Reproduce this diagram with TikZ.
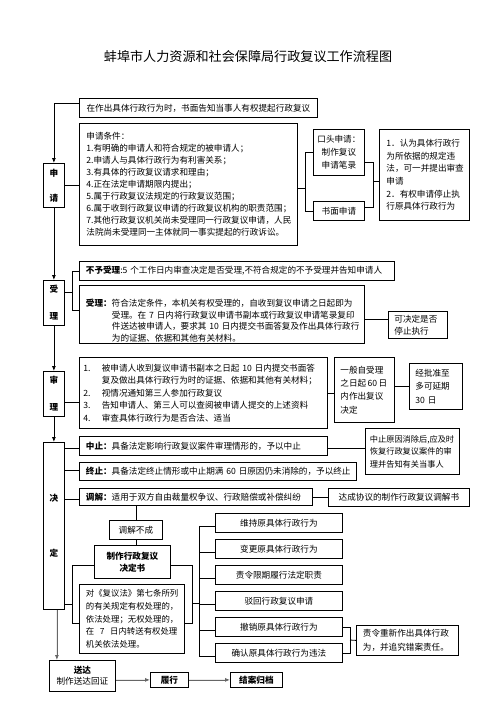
\documentclass[tikz,border=0pt]{standalone}
\usepackage{fontspec}
\setmainfont{Noto Sans CJK SC}
\usetikzlibrary{arrows.meta}
\newcommand\fs{\fontsize{8.6}{12}\selectfont}
\tikzset{
  box/.style={draw, line width=0.8pt, inner sep=0pt, anchor=north west, font=\fs},
  lbox/.style={box, align=left},
  cbox/.style={box, align=center},
  vbox/.style={box, align=center, text width=21pt, font=\fontsize{8.6}{#1}\selectfont},
  ln/.style={line width=0.8pt},
  arr/.style={ln, -{Latex[length=5pt,width=4pt]}},
  garr/.style={arr, draw=black!60, fill=black!60},
}
\begin{document}
\begin{tikzpicture}[x=1pt,y=-1pt, every path/.style={line width=0.8pt}]
\useasboundingbox (0,0) rectangle (496,702);
\node[font=\fontsize{13.1}{15}\selectfont] (title) at (248,57) {蚌埠市人力资源和社会保障局行政复议工作流程图};

% 申请
\node[cbox, text width=234pt, inner xsep=2pt, minimum height=19pt] (gz) at (79,98) {在作出具体行政行为时，书面告知当事人有权提起行政复议};
\node[vbox=25, minimum height=44pt] (sq) at (43,163) {\textbf{申}\\\textbf{请}};
\node[lbox, text width=204pt, inner xsep=7pt, minimum height=122pt] (cond) at (79,123) {申请条件：\\
1.有明确的申请人和符合规定的被申请人；\\
2.申请人与具体行政行为有利害关系；\\
3.有具体的行政复议请求和理由；\\
4.正在法定申请期限内提出；\\
5.属于行政复议法规定的行政复议范围；\\
6.属于收到行政复议申请的行政复议机构的职责范围；\\
7.其他行政复议机关尚未受理同一行政复议申请，人民\\
法院尚未受理同一主体就同一事实提起的行政诉讼。};
\node[cbox, text width=45pt, inner xsep=3pt, minimum height=46pt, font=\fontsize{8.6}{13}\selectfont] (kt) at (313,129) {口头申请：\\制作复议\\申请笔录};
\node[cbox, text width=45pt, inner xsep=3pt, minimum height=19pt] (sm) at (313,201) {书面申请};
\node[lbox, text width=76pt, inner xsep=7pt, minimum height=91pt, font=\fontsize{8.6}{12.7}\selectfont] (rb) at (379,129) {1．认为具体行政行\\为所依据的规定违\\法，可一并提出审查\\申请\\2．有权申请停止执\\行原具体行政行为};

% 受理
\node[vbox=27, minimum height=45pt] (sl) at (43,280) {\textbf{受}\\\textbf{理}};
\node[lbox, text width=302pt, inner xsep=6.5pt, minimum height=19pt] (nb) at (79,261) {\textbf{不予受理}:5~个工作日内审查决定是否受理,不符合规定的不予受理并告知申请人};
\node[lbox, text width=272pt, inner xsep=6.5pt, minimum height=58pt, font=\fontsize{8.6}{11.7}\selectfont] (sb) at (79,285) {\rule{0pt}{20pt}\textbf{受理：}符合法定条件，本机关有权受理的，自收到复议申请之日起即为\\
\hspace*{26pt}受理。在~7~日内将行政复议申请书副本或行政复议申请笔录复印\\
\hspace*{26pt}件送达被申请人，要求其~10~日内提交书面答复及作出具体行政行\\
\hspace*{26pt}为的证据、依据和其他有关材料。};
\node[lbox, text width=47pt, inner xsep=6pt, minimum height=27pt] (kj) at (388,311) {可决定是否\\停止执行};

% 审理
\node[vbox=27, minimum height=45pt] (ss) at (43,371) {\textbf{审}\\\textbf{理}};
\node[lbox, text width=240pt, inner xsep=4pt, minimum height=71pt, font=\fontsize{8.6}{12.6}\selectfont] (s1) at (79,357) {\makebox[18.5pt][l]{1.}被申请人收到复议申请书副本之日起~10~日内提交书面答\\
\hspace*{18.5pt}复及做出具体行政行为时的证据、依据和其他有关材料；\\
\makebox[18.5pt][l]{2.}视情况通知第三人参加行政复议\\
\makebox[18.5pt][l]{3.}告知申请人、第三人可以查阅被申请人提交的上述资料\\
\makebox[18.5pt][l]{4.}审查具体行政行为是否合法、适当};
\node[lbox, text width=48pt, inner xsep=6pt, minimum height=65pt, font=\fontsize{8.6}{13.3}\selectfont] (yb) at (334,357) {一般自受理\\之日起\,60\,日\\内作出复议\\决定};
\node[lbox, text width=41pt, inner xsep=6pt, minimum height=46pt, font=\fontsize{8.6}{13.3}\selectfont] (jp) at (409,363) {经批准至\\多可延期\\30~日};

% 决定
\node[vbox=55, minimum height=167pt] (jd) at (43,442) {\textbf{决}\\\textbf{定}};
\node[lbox, text width=235pt, inner xsep=6.5pt, minimum height=19pt] (zz) at (79,436) {\textbf{中止：}具备法定影响行政复议案件审理情形的，予以中止};
\node[lbox, text width=85pt, inner xsep=4.5pt, minimum height=46pt, font=\fontsize{8.2}{12.5}\selectfont] (zy) at (365,428) {中止原因消除后,应及时\\恢复行政复议案件的审\\理并告知有关当事人};
\node[lbox, text width=264pt, inner xsep=6.5pt, minimum height=18pt] (zt) at (79,462) {\textbf{终止：}具备法定终止情形或中止期满~60~日原因仍未消除的，予以终止};
\node[lbox, text width=220pt, inner xsep=6.5pt, minimum height=17pt] (tj) at (79,488) {\textbf{调解：}适用于双方自由裁量权争议、行政赔偿或补偿纠纷};
\node[cbox, text width=141pt, minimum height=18pt] (dc) at (328,488) {达成协议的制作行政复议调解书};
\node[cbox, text width=53pt, minimum height=19pt] (tb) at (109,520) {调解不成};
\node[cbox, text width=76pt, minimum height=33pt] (zd) at (94,545) {\textbf{制作行政复议}\\\textbf{决定书}};
\node[lbox, text width=92pt, inner xsep=6.5pt, minimum height=69pt, font=\fontsize{8.4}{12.6}\selectfont] (dfa) at (79,584) {对《复议法》第七条所列\\的有关规定有权处理的，\\依法处理；无权处理的，\\在~~7~~日内转送有权处理\\机关依法处理。};
\node[cbox, text width=127pt, minimum height=19pt] (o1) at (215,513) {维持原具体行政行为};
\node[cbox, text width=127pt, minimum height=19pt] (o2) at (215,539) {变更原具体行政行为};
\node[cbox, text width=127pt, minimum height=19pt] (o3) at (215,565) {责令限期履行法定职责};
\node[cbox, text width=127pt, minimum height=19pt] (o4) at (215,591) {驳回行政复议申请};
\node[cbox, text width=127pt, minimum height=19pt] (o5) at (215,617) {撤销原具体行政行为};
\node[cbox, text width=127pt, minimum height=19pt] (o6) at (215,643) {确认原具体行政行为违法};
\node[lbox, text width=89pt, inner xsep=6.5pt, minimum height=30pt, font=\fontsize{8.6}{14}\selectfont] (zc) at (356,625) {责令重新作出具体行政\\为，并追究错案责任。};

% bottom
\node[cbox, text width=66pt, minimum height=31pt, font=\fontsize{8.6}{11}\selectfont] (sd) at (49,660) {\textbf{送达}\\制作送达回证};
\node[cbox, text width=38pt, minimum height=15pt] (lx) at (150,672) {\textbf{履行}};
\node[cbox, text width=52pt, minimum height=15pt] (ja) at (230,672) {\textbf{结案归档}};

% connectors: 申请
\coordinate (g1) at ([yshift=4.5pt]gz.west);
\draw[arr] (g1) -| (sq.north);
\draw (sq.east) -- (sq.east -| cond.west);
\coordinate (cj) at (305,188);
\draw (cj -| cond.east) -- (cj);
\draw (kt.west) -| (cj);
\draw (sm.west) -| (cj);
\coordinate (rj) at (373,181);
\coordinate (k1) at ([yshift=-10pt]kt.east);
\coordinate (k2) at ([yshift=3.5pt]sm.east);
\draw (k1) -| (rj);
\draw (k2) -| (rj);
\draw (rj) -- (rj -| rb.west);

% 受理
\draw[arr] (sq.south) -- (sl.north);
\coordinate (sj) at (72,292);
\coordinate (s2) at ([yshift=4pt]sb.west);
\draw (sj -| sl.east) -- (sj);
\draw (nb.west) -| (sj);
\draw (s2) -| (sj);
\coordinate (s3) at ([yshift=-5pt]sb.east);
\draw (s3) -- (s3 -| kj.west);

% 审理
\draw[arr] (sl.south) -- (ss.north);
\coordinate (q1) at (0,402);
\draw (ss.east |- q1) -- (s1.west |- q1);
\draw (s1.east) -- (s1.east -| yb.west);
\draw (jp.west -| yb.east) -- (jp.west);

% 决定
\draw[arr] (ss.south) -- (jd.north);
\coordinate (r1) at (0,448);
\coordinate (r2) at (0,470);
\coordinate (r3) at (0,499);
\draw (jd.east |- r1) -- (zz.west |- r1);
\draw (jd.east |- r2) -- (zt.west |- r2);
\draw (jd.east |- r3) -- (tj.west |- r3);
\draw (zz.east |- r1) -- (zy.west |- r1);
\draw (tj.east) -- (tj.east -| dc.west);
\draw (tb.north |- tj.south) -- (tb.north);
\draw (tb.south) -- (tb.south |- zd.north);
\coordinate (lt) at (72.7,565);
\coordinate (lb) at (72.7,623);
\coordinate (lm) at (72.7,604);
\draw (zd.west |- lt) -- (lt) -- (lb) -- (dfa.west |- lb);
\draw (jd.east |- lm) -- (lm);
\coordinate (rt) at (192.7,565);
\coordinate (rb2) at (192.7,623);
\coordinate (rm) at (192.7,603);
\coordinate (oj) at (199.3,603);
\draw (zd.east |- rt) -- (rt) -- (rb2) -- (dfa.east |- rb2);
\draw (rm) -- (oj);
\foreach \o in {o1,o2,o3,o4,o5,o6} {
  \coordinate (t\o) at ([yshift=-3pt]\o.west);
  \draw (t\o) -- (t\o -| oj);
}
\draw (to1 -| oj) -- (to6 -| oj);
\coordinate (zj) at (350,640);
\draw (o5.east) -| (zj);
\draw (o6.east) -| (zj);
\draw (zj) -- (zc.west);

% bottom
\coordinate (d1) at ([xshift=3pt]jd.south);
\draw[garr] (d1) -- (d1 |- sd.north);
\draw[garr] (lx.west -| sd.east) -- (lx.west);
\draw[garr] (lx.east) -- (ja.west);
\end{tikzpicture}
\end{document}
